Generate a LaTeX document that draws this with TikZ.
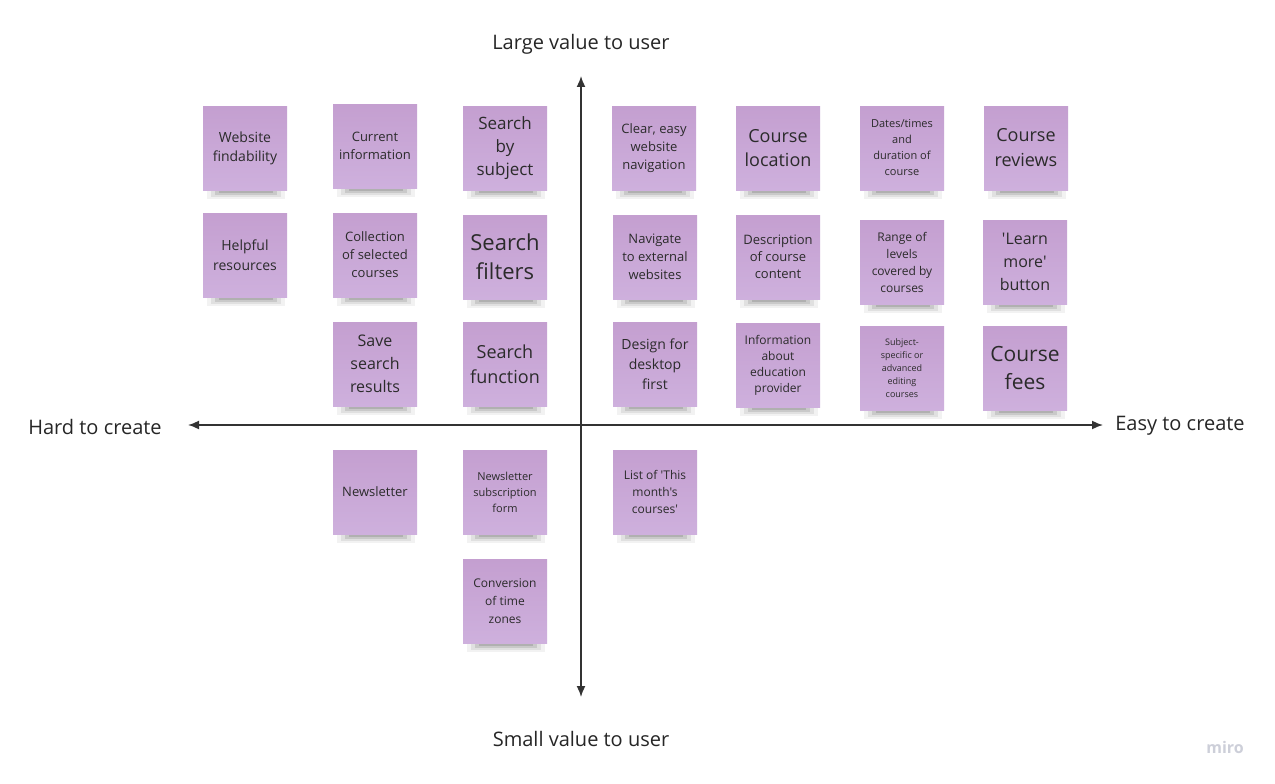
\documentclass[tikz,border=0pt]{standalone}
\usepackage{fontspec}
\newfontfamily\osans{Open Sans}
\usetikzlibrary{arrows.meta,backgrounds}
\definecolor{notetop}{HTML}{C49FD0}
\definecolor{notebot}{HTML}{CEB0DD}
\definecolor{notetext}{HTML}{2B2B2B}
\definecolor{axiscol}{HTML}{333333}
\definecolor{logocol}{HTML}{CDCFD9}
\newcommand{\fsz}[2]{\osans\fontsize{#1}{#2}\selectfont}
\begin{document}
\begin{tikzpicture}[x=1pt,y=-1pt,
  note/.style={minimum width=84pt,minimum height=84pt,inner sep=0pt,align=center,
    top color=notetop,bottom color=notebot,text=notetext},
  axislbl/.style={font=\fsz{20}{24},text=black!85},
  axisline/.style={draw=axiscol,line width=1.6pt,{Latex[length=11pt,width=9pt]}-{Latex[length=11pt,width=9pt]}}]
\useasboundingbox (0,0) rectangle (1275,784);
% axes
\coordinate (vtop) at (581,76);
\coordinate (vbot) at (581,697);
\coordinate (hleft) at (188,425);
\coordinate (hright) at (1103,425);
\draw[axisline] (vbot) -- (vtop);
\draw[axisline] (hleft) -- (hright);
\node[axislbl] (large) at (581,44) {Large value to user};
\node[axislbl] (small) at (581,739) {Small value to user};
\node[axislbl] (hard) at (95,427) {Hard to create};
\node[axislbl] (easy) at (1180,426) {Easy to create};
% row 1
\node[note,font=\fsz{14}{19}] (n1) at (245,148) {Website\\findability};
\node[note,font=\fsz{13}{18}] (n2) at (375,146) {Current\\information};
\node[note,font=\fsz{17}{23}] (n3) at (505,148) {Search\\by\\subject};
\node[note,font=\fsz{13}{18}] (n4) at (654,148) {Clear, easy\\website\\navigation};
\node[note,font=\fsz{18}{24}] (n5) at (778,148) {Course\\location};
\node[note,font=\fsz{11}{16}] (n6) at (902,148) {Dates/times\\and\\duration of\\course};
\node[note,font=\fsz{18}{25}] (n7) at (1026,148) {Course\\reviews};
% row 2
\node[note,font=\fsz{14}{20}] (n8) at (245,255) {Helpful\\resources};
\node[note,font=\fsz{13}{18}] (n9) at (375,255) {Collection\\of selected\\courses};
\node[note,font=\fsz{22}{29}] (n10) at (505,257) {Search\\filters};
\node[note,font=\fsz{13}{18}] (n11) at (655,257) {Navigate\\to external\\websites};
\node[note,font=\fsz{13}{17}] (n12) at (778,257) {Description\\of course\\content};
\node[note,font=\fsz{12}{17}] (n13) at (902,262) {Range of\\levels\\covered by\\courses};
\node[note,font=\fsz{16}{23}] (n14) at (1025,262) {'Learn\\more'\\button};
% row 3
\node[note,font=\fsz{16}{23}] (n15) at (375,364) {Save\\search\\results};
\node[note,font=\fsz{18}{25}] (n16) at (505,364) {Search\\function};
\node[note,font=\fsz{14}{20}] (n17) at (655,364) {Design for\\desktop\\first};
\node[note,font=\fsz{12}{16}] (n18) at (778,365) {Information\\about\\education\\provider};
\node[note,font=\fsz{9}{13}] (n19) at (902,368) {Subject-\\specific or\\advanced\\editing\\courses};
\node[note,font=\fsz{21}{28}] (n20) at (1025,368) {Course\\fees};
% row 4
\node[note,font=\fsz{13}{18}] (n21) at (375,492) {Newsletter};
\node[note,font=\fsz{11}{16}] (n22) at (505,492) {Newsletter\\subscription\\form};
\node[note,font=\fsz{12}{17}] (n23) at (655,492) {List of 'This\\month's\\courses'};
% row 5
\node[note,font=\fsz{12}{18}] (n24) at (505,601) {Conversion\\of time\\zones};
% logo
\node[text=logocol,font=\fsz{16}{18}\bfseries] (miro) at (1225,747) {miro};
\begin{scope}[on background layer]
\fill[white] (0,0) rectangle (1275,784);
\foreach \n in {n1,n2,n3,n4,n5,n6,n7,n8,n9,n10,n11,n12,n13,n14,n15,n16,n17,n18,n19,n20,n21,n22,n23,n24} {
  \fill[black,opacity=0.05] ([xshift=4pt,yshift=2pt]\n.south west) rectangle ([xshift=-2pt,yshift=-9pt]\n.south east);
  \fill[black,opacity=0.07] ([xshift=8pt,yshift=2pt]\n.south west) rectangle ([xshift=-6pt,yshift=-7pt]\n.south east);
  \fill[black,opacity=0.10] ([xshift=12pt,yshift=2pt]\n.south west) rectangle ([xshift=-10pt,yshift=-5pt]\n.south east);
  \fill[black,opacity=0.12] ([xshift=16pt,yshift=2pt]\n.south west) rectangle ([xshift=-14pt,yshift=-3pt]\n.south east);
}
\end{scope}
\end{tikzpicture}
\end{document}
